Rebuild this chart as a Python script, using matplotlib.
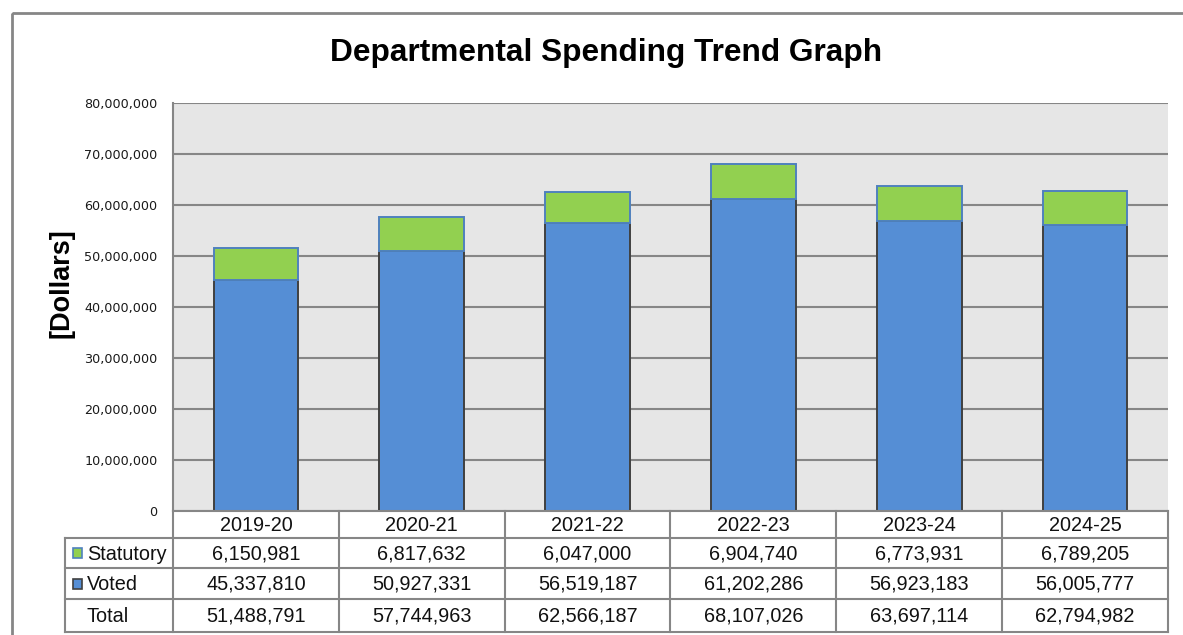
import matplotlib
matplotlib.use("Agg")
import matplotlib.pyplot as plt
from matplotlib.patches import Rectangle
from matplotlib.transforms import blended_transform_factory
from matplotlib.ticker import FuncFormatter

years = ["2019-20", "2020-21", "2021-22", "2022-23", "2023-24", "2024-25"]
statutory = [6150981, 6817632, 6047000, 6904740, 6773931, 6789205]
voted = [45337810, 50927331, 56519187, 61202286, 56923183, 56005777]
totals = [51488791, 57744963, 62566187, 68107026, 63697114, 62794982]
yticks = [0, 10000000, 20000000, 30000000, 40000000, 50000000, 60000000, 70000000, 80000000]

W, H = 1183, 635
fig = plt.figure(figsize=(W / 100, H / 100), dpi=100)
fig.patch.set_facecolor("white")

GRID = "#868686"
GREEN = "#92d050"
BLUE = "#558ed5"

# plot area in pixels
L, R, T, B = 173, 1168, 103, 511
ax = fig.add_axes([L / W, 1 - B / H, (R - L) / W, (B - T) / H])
ax.set_facecolor("#e6e6e6")
x = list(range(len(years)))
ax.bar(x, voted, width=0.51, color=BLUE, edgecolor="#404040", linewidth=1.4, zorder=3)
ax.bar(x, statutory, bottom=voted, width=0.51, color=GREEN, edgecolor="#4f81bd",
       linewidth=1.4, zorder=3)
ax.set_xlim(-0.5, len(years) - 0.5)
ax.set_ylim(0, 80000000)
ax.set_yticks(yticks)
ax.yaxis.set_major_formatter(FuncFormatter(lambda v, p: f"{int(v):,}"))
ax.tick_params(axis="y", length=0, pad=11, labelsize=9.2, labelcolor="#1a1a1a")
ax.set_xticks([])
ax.grid(axis="y", color=GRID, linewidth=1.5, zorder=0)
ax.set_axisbelow(True)
for s in ["right", "bottom", "top"]:
    ax.spines[s].set_visible(False)
ax.spines["left"].set_color(GRID)
ax.spines["left"].set_linewidth(1.5)
for lab in ax.get_yticklabels():
    lab.set_family("DejaVu Sans")

# overlay in pixel coordinates
ov = fig.add_axes([0, 0, 1, 1], zorder=5)
ov.set_xlim(0, W)
ov.set_ylim(H, 0)
ov.axis("off")
ov.patch.set_alpha(0)

# outer border (left and top visible)
ov.add_patch(Rectangle((12, 13), W + 20, H + 20, fill=False, edgecolor=GRID, linewidth=2))

ov.text(606, 53, "Departmental Spending Trend Graph", ha="center", va="center",
        fontsize=22.8, fontweight="bold", family="Liberation Sans")
ov.text(62, 283, "[Dollars]", ha="center", va="center", rotation=90,
        fontsize=19.5, fontweight="bold", family="Liberation Sans")

# table
tr = blended_transform_factory(ax.transData, ov.transData)
rows_y = [511, 538, 568, 599, 632]
xl = -0.5 - (L - 65) / ((R - L) / len(years))
xr = len(years) - 0.5
lkw = dict(color=GRID, linewidth=1.5, transform=tr, clip_on=False, zorder=6)
# horizontal lines
ov.plot([-0.5, xr], [rows_y[0], rows_y[0]], **lkw)
for yy in rows_y[1:]:
    ov.plot([xl, xr], [yy, yy], **lkw)
# vertical lines
ov.plot([xl, xl], [rows_y[1], rows_y[-1]], **lkw)
for i in range(len(years) + 1):
    xv = i - 0.5
    ov.plot([xv, xv], [rows_y[0], rows_y[-1]], **lkw)

tkw = dict(ha="center", va="center", fontsize=14.3, family="Liberation Sans",
           transform=tr, clip_on=False, zorder=7, color="#111111")
row_vals = [statutory, voted, totals]
for i, yr in enumerate(years):
    ov.text(i, (rows_y[0] + rows_y[1]) / 2 + 1, yr, **tkw)
    for r, vals in enumerate(row_vals):
        yc = (rows_y[r + 1] + rows_y[r + 2]) / 2 + 1
        ov.text(i, yc, f"{vals[i]:,}", **tkw)

labels = ["Statutory", "Voted", "Total"]
sw = [(GREEN, "#4f81bd"), (BLUE, "#404040"), None]
for r, lab in enumerate(labels):
    yc = (rows_y[r + 1] + rows_y[r + 2]) / 2
    if sw[r] is not None:
        ov.add_patch(Rectangle((73, yc - 5), 9, 10, facecolor=sw[r][0],
                               edgecolor=sw[r][1], linewidth=1.2, zorder=7))
    ov.text(87, yc + 1, lab, ha="left", va="center", fontsize=14.3,
            family="Liberation Sans", zorder=7, color="#111111")

fig.savefig("out.png", dpi=100)
